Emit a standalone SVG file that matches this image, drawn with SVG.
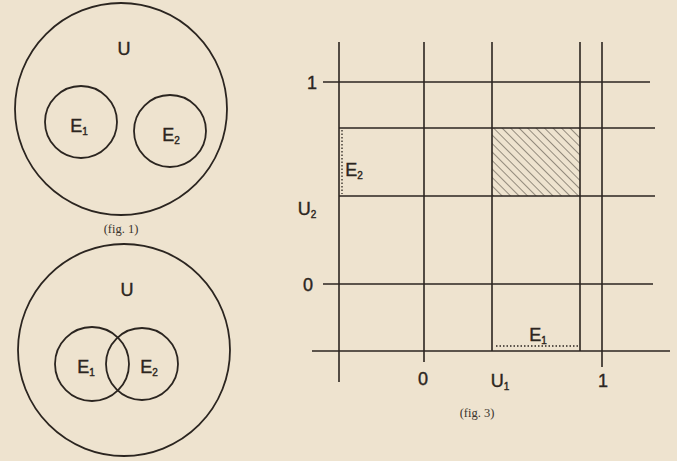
<svg xmlns="http://www.w3.org/2000/svg" width="677" height="461" viewBox="0 0 677 461">
<defs>
<style>
.ln{stroke:#2b2520;stroke-width:1.6;fill:none}
.c{stroke:#2b2520;stroke-width:1.8;fill:none}
.dot{stroke:#2b2520;stroke-width:1.3;stroke-dasharray:1.5 2;fill:none}
.hw{font-family:"Liberation Sans",Arial,sans-serif;fill:#2b2520;font-size:18px;text-anchor:middle;stroke:#2b2520;stroke-width:0.4}
.sub{font-size:10px}
.cap{font-family:"Liberation Serif","Times New Roman",serif;fill:#3a332c;font-size:12.5px;text-anchor:middle}
</style>
<pattern id="hatch" patternUnits="userSpaceOnUse" width="6" height="6" patternTransform="rotate(-45)">
<line x1="0" y1="0" x2="0" y2="6" stroke="#3a332c" stroke-width="1"/>
</pattern>
</defs>
<rect width="677" height="461" fill="#eee3cf"/>

<g id="fig1">
<circle class="c" cx="121" cy="109" r="106"/>
<text class="hw" x="124" y="55" font-size="20">U</text>
<g id="fig1-E1">
<circle class="c" cx="81" cy="122" r="36"/>
<text class="hw" x="79" y="132">E<tspan class="sub" dy="3">1</tspan></text>
</g>
<g id="fig1-E2">
<circle class="c" cx="170" cy="131" r="36"/>
<text class="hw" x="171" y="141">E<tspan class="sub" dy="3">2</tspan></text>
</g>
<text class="cap" x="121" y="233">(fig. 1)</text>
</g>

<g id="fig2">
<circle class="c" cx="124" cy="350" r="106"/>
<text class="hw" x="127" y="296" font-size="20">U</text>
<g id="fig2-E1">
<circle class="c" cx="92" cy="364" r="37"/>
<text class="hw" x="86" y="373">E<tspan class="sub" dy="3">1</tspan></text>
</g>
<g id="fig2-E2">
<circle class="c" cx="142" cy="364" r="36"/>
<text class="hw" x="149" y="373">E<tspan class="sub" dy="3">2</tspan></text>
</g>
</g>

<g id="fig3">
<rect x="492" y="128" width="88" height="68" fill="url(#hatch)"/>
<g id="connectors">
<line class="ln" x1="339" y1="42" x2="339" y2="382"/>
<line class="ln" x1="424" y1="42" x2="424" y2="362"/>
<line class="ln" x1="492" y1="42" x2="492" y2="351"/>
<line class="ln" x1="580" y1="42" x2="580" y2="351"/>
<line class="ln" x1="602" y1="42" x2="602" y2="367"/>
<line class="ln" x1="323" y1="82" x2="650" y2="82"/>
<line class="ln" x1="339" y1="128" x2="655" y2="128"/>
<line class="ln" x1="339" y1="196" x2="655" y2="196"/>
<line class="ln" x1="323" y1="284" x2="653" y2="284"/>
<line class="ln" x1="312" y1="351" x2="670" y2="351"/>
<line class="dot" x1="342" y1="130" x2="342" y2="194"/>
<line class="dot" x1="496" y1="346" x2="578" y2="346"/>
</g>
<text class="hw" x="312" y="89" font-size="16">1</text>
<text class="hw" x="308" y="291" font-size="16">0</text>
<text class="hw" x="354" y="176" font-size="15">E<tspan class="sub" dy="3">2</tspan></text>
<text class="hw" x="307" y="215">U<tspan class="sub" dy="3">2</tspan></text>
<text class="hw" x="423" y="385" font-size="16">0</text>
<text class="hw" x="500" y="387">U<tspan class="sub" dy="3">1</tspan></text>
<text class="hw" x="603" y="387" font-size="16">1</text>
<text class="hw" x="538" y="341" font-size="14">E<tspan class="sub" dy="3">1</tspan></text>
<text class="cap" x="477" y="417">(fig. 3)</text>
</g>
</svg>
